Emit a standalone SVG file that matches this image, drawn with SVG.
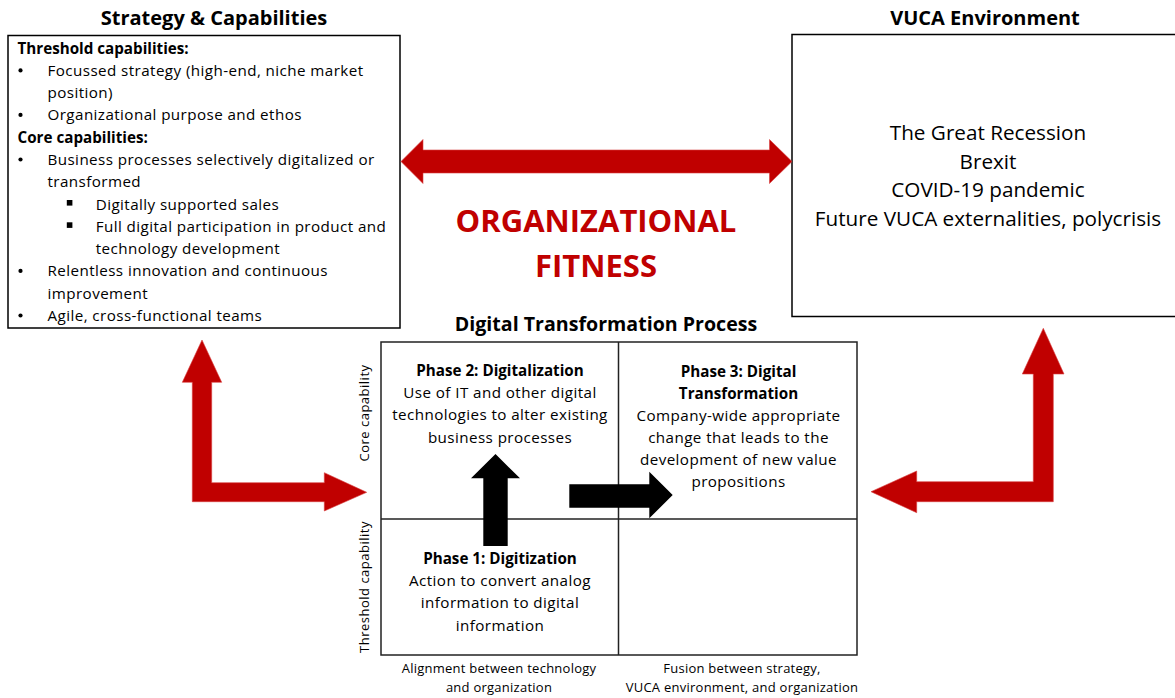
<svg xmlns="http://www.w3.org/2000/svg" width="1175" height="698" viewBox="0 0 1175 698">
  <style>
    text { font-family: "Open Sans", Lato, "Liberation Sans", sans-serif; fill: #000; }
    .title { font-size: 20px; font-weight: bold; text-anchor: middle; }
    .body { font-size: 15.2px; letter-spacing: 0.42px; }
    .bold { font-weight: bold; letter-spacing: 0; }
    .mid { text-anchor: middle; }
    .vuca { font-size: 20.7px; text-anchor: middle; }
    .small { font-size: 13px; letter-spacing: 0.25px; text-anchor: middle; }
    .axis { font-size: 13px; letter-spacing: 0.5px; text-anchor: middle; }
    .fit { font-size: 31px; font-weight: bold; text-anchor: middle; fill: #C00000; }
    .box { fill: #fff; stroke: #000; stroke-width: 1.5; }
    .grid { fill: none; stroke: #222; stroke-width: 1.5; }
    .red { fill: #C00000; stroke: #D84040; stroke-width: 0.6; }
    .black { fill: #000; }
  </style>

  <!-- Strategy & Capabilities -->
  <g id="strategy">
    <text class="title" x="214" y="25">Strategy &amp; Capabilities</text>
    <rect class="box" x="8" y="35.5" width="392" height="292.5"/>
    <g class="body">
      <text class="bold" x="17.5" y="53.5">Threshold capabilities:</text>
      <circle cx="20.5" cy="70.4" r="2.1"/><text x="47.5" y="75.8">Focussed strategy (high-end, niche market</text>
      <text x="47.5" y="98">position)</text>
      <circle cx="20.5" cy="114.9" r="2.1"/><text x="47.5" y="120.3">Organizational purpose and ethos</text>
      <text class="bold" x="17.5" y="142.6">Core capabilities:</text>
      <circle cx="20.5" cy="159.5" r="2.1"/><text x="47.5" y="164.9">Business processes selectively digitalized or</text>
      <text x="47.5" y="187.2">transformed</text>
      <rect x="66.8" y="200" width="5.6" height="5.6"/><text x="95.7" y="209.5">Digitally supported sales</text>
      <rect x="66.8" y="222.3" width="5.6" height="5.6"/><text x="95.7" y="231.8">Full digital participation in product and</text>
      <text x="95.7" y="254">technology development</text>
      <circle cx="20.5" cy="270.9" r="2.1"/><text x="47.5" y="276.3">Relentless innovation and continuous</text>
      <text x="47.5" y="298.6">improvement</text>
      <circle cx="20.5" cy="315.5" r="2.1"/><text x="47.5" y="320.9">Agile, cross-functional teams</text>
    </g>
  </g>

  <!-- VUCA Environment -->
  <g id="vuca">
    <text class="title" x="985" y="25">VUCA Environment</text>
    <rect class="box" x="792" y="34.5" width="395" height="282"/>
    <text class="vuca" x="988" y="140">The Great Recession</text>
    <text class="vuca" x="988" y="168.5">Brexit</text>
    <text class="vuca" x="988" y="197">COVID-19 pandemic</text>
    <text class="vuca" x="988" y="225.5">Future VUCA externalities, polycrisis</text>
  </g>

  <!-- Organizational fitness label -->
  <g id="fitness">
    <text class="fit" x="596" y="231.5">ORGANIZATIONAL</text>
    <text class="fit" x="596" y="276.5">FITNESS</text>
  </g>

  <!-- Digital transformation matrix -->
  <g id="process">
    <text class="title" x="606" y="330.7" style="font-size:19.6px">Digital Transformation Process</text>
    <rect class="grid" x="381" y="342" width="476" height="313"/>
    <line class="grid" x1="618.5" y1="342" x2="618.5" y2="655"/>
    <line class="grid" x1="381" y1="519" x2="857" y2="519"/>
    <text class="axis" transform="translate(369 413) rotate(-90)">Core capability</text>
    <text class="axis" transform="translate(369 587) rotate(-90)">Threshold capability</text>
    <text class="small" x="499" y="673.3">Alignment between technology</text>
    <text class="small" x="499" y="692.3">and organization</text>
    <text class="small" x="742" y="673.3">Fusion between strategy,</text>
    <text class="small" x="742" y="692.3">VUCA environment, and organization</text>
  </g>

  <g id="phase2" class="body">
    <text class="bold mid" x="500" y="375.7">Phase 2: Digitalization</text>
    <text class="mid" x="500" y="398">Use of IT and other digital</text>
    <text class="mid" x="500" y="420.3">technologies to alter existing</text>
    <text class="mid" x="500" y="442.6">business processes</text>
  </g>

  <g id="phase3" class="body">
    <text class="bold mid" x="738.5" y="376.5">Phase 3: Digital</text>
    <text class="bold mid" x="738.5" y="398.5">Transformation</text>
    <text class="mid" x="738.5" y="420.7">Company-wide appropriate</text>
    <text class="mid" x="738.5" y="443">change that leads to the</text>
    <text class="mid" x="738.5" y="465">development of new value</text>
    <text class="mid" x="738.5" y="487">propositions</text>
  </g>

  <g id="phase1" class="body">
    <text class="bold mid" x="500" y="563.5">Phase 1: Digitization</text>
    <text class="mid" x="500" y="586">Action to convert analog</text>
    <text class="mid" x="500" y="608.3">information to digital</text>
    <text class="mid" x="500" y="630.5">information</text>
  </g>

  <!-- Connectors -->
  <g id="connectors">
    <!-- fitness double arrow -->
    <path class="red" d="M401 161.5 L423 139.5 L423 150 L769.5 150 L769.5 139.5 L792 161.5 L769.5 183.5 L769.5 173 L423 173 L423 183.5 Z"/>
    <!-- strategy to process -->
    <path class="red" d="M202 340 L221.7 382.3 L211.7 382.3 L211.7 482.7 L324.3 482.7 L324.3 472.7 L366.7 492.3 L324.3 511 L324.3 501.7 L192.3 501.7 L192.3 382.3 L182.3 382.3 Z"/>
    <!-- VUCA to process -->
    <path class="red" d="M1043.3 328.3 L1064 374 L1053.3 374 L1053.3 501.7 L916.7 501.7 L916.7 512.7 L871 491.7 L916.7 471 L916.7 481.7 L1033.3 481.7 L1033.3 374 L1022.3 374 Z"/>
    <!-- phase 1 to phase 2 -->
    <path class="black" d="M495.5 454 L520 478.3 L507.7 478.3 L507.7 546 L483.3 546 L483.3 478.3 L471 478.3 Z"/>
    <!-- phase 2 to phase 3 -->
    <path class="black" d="M569.3 484.3 L649.3 484.3 L649.3 471.7 L672.7 495 L649.3 518.3 L649.3 507.7 L569.3 507.7 Z"/>
  </g>
</svg>
